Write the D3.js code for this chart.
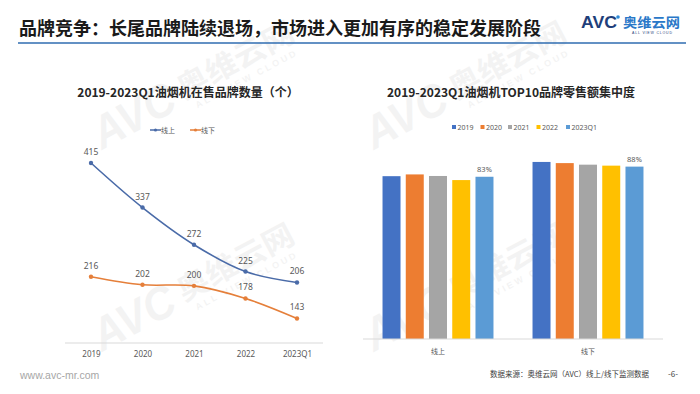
<!DOCTYPE html>
<html>
<head>
<meta charset="utf-8">
<script src="https://cdn.jsdelivr.net/npm/d3@7"></script>
<style>
  body { margin: 0; background: #fff; }
  svg { display: block; font-family: "Noto Sans CJK SC", "Noto Sans", sans-serif; }
</style>
</head>
<body>
<svg id="slide" width="700" height="394"></svg>
<script>
// ---- data ----
var years = ['2019', '2020', '2021', '2022', '2023Q1'];
var online = [415, 337, 272, 225, 206];
var offline = [216, 202, 200, 178, 143];

var channels = ['线上', '线下'];
var top10Online = [83.5, 84.4, 83.6, 81.5, 83.2];
var top10Offline = [90.8, 90.2, 89.4, 88.9, 88.4];
var top10Labels = ['83%', '88%'];

var lineColors = { '线上': '#4A6BA8', '线下': '#E57F3A' };
var barColors = ['#4472C4', '#ED7D31', '#A5A5A5', '#FFC000', '#5B9BD5'];

var svg = d3.select('#slide');

// faint AVC watermark, origin = bottom-left of "AVC"
function watermark(x, y) {
   var g = svg.append('g')
      .attr('transform', 'translate(' + x + ',' + y + ') rotate(-28)')
      .style('fill', '#000')
      .style('opacity', 0.045);
   g.append('text').attr('x', 0).attr('y', 0)
      .style('font-family', '"Liberation Sans", sans-serif')
      .style('font-weight', 'bold').style('font-style', 'italic')
      .style('font-size', '46px')
      .attr('textLength', 88).attr('lengthAdjust', 'spacingAndGlyphs')
      .text('AVC');
   g.append('text').attr('x', 96).attr('y', -6)
      .style('font-weight', 'bold').style('font-size', '30px')
      .attr('textLength', 128).attr('lengthAdjust', 'spacingAndGlyphs')
      .text('奥维云网');
   g.append('text').attr('x', 104).attr('y', 8)
      .style('font-family', '"Liberation Sans", sans-serif')
      .style('font-weight', 'bold').style('font-size', '9px')
      .attr('textLength', 112)
      .text('ALL VIEW CLOUD');
}

function header() {
   svg.append('text')
      .attr('x', 19).attr('y', 35)
      .style('font-size', '18px').style('font-weight', 'bold')
      .style('fill', '#1a1a1a')
      .text('品牌竞争：长尾品牌陆续退场，市场进入更加有序的稳定发展阶段');

   svg.append('line')
      .attr('x1', 18).attr('x2', 686).attr('y1', 43).attr('y2', 43)
      .style('stroke', '#2F6DB0').style('stroke-width', 1.5);

   // logo
   svg.append('text')
      .attr('x', 581).attr('y', 28)
      .style('font-family', '"Liberation Sans", sans-serif')
      .style('font-weight', 'bold').style('font-size', '16px')
      .style('fill', '#1F3F7A')
      .attr('textLength', 36).attr('lengthAdjust', 'spacingAndGlyphs')
      .text('AVC');
   svg.append('circle').attr('cx', 618).attr('cy', 17).attr('r', 1.8).style('fill', '#2E8BD8');
   svg.append('text')
      .attr('x', 623).attr('y', 27)
      .style('font-weight', 'bold').style('font-size', '13px')
      .style('fill', '#2A78C8')
      .attr('textLength', 57).attr('lengthAdjust', 'spacingAndGlyphs')
      .text('奥维云网');
   svg.append('text')
      .attr('x', 632).attr('y', 34)
      .style('font-family', '"Liberation Sans", sans-serif')
      .style('font-size', '3.5px').style('fill', '#1F3F7A')
      .attr('textLength', 40)
      .text('ALL VIEW CLOUD');

   // footer
   svg.append('text')
      .attr('x', 20).attr('y', 379)
      .style('font-family', '"Liberation Sans", sans-serif')
      .style('font-size', '10.5px').style('fill', '#A6A6A6')
      .text('www.avc-mr.com');
   svg.append('text')
      .attr('x', 490).attr('y', 377)
      .style('font-size', '7.5px').style('fill', '#404040')
      .text('数据来源：奥维云网（AVC）线上/线下监测数据');
   svg.append('text')
      .attr('x', 668).attr('y', 377)
      .style('font-size', '8px').style('fill', '#404040')
      .text('-6-');
}

function brandLine() {
   var x = d3.scalePoint().domain(years).range([91, 297]);
   var y = d3.scaleLinear().domain([100, 450]).range([343, 143]);

   svg.append('text')
      .attr('x', 188).attr('y', 97)
      .attr('text-anchor', 'middle')
      .style('font-size', '12px').style('font-weight', 'bold')
      .style('fill', '#262626')
      .text('2019-2023Q1油烟机在售品牌数量（个）');

   var ax = svg.append('g')
      .attr('transform', 'translate(0,343)')
      .call(d3.axisBottom(x).tickSize(0).tickPadding(8));
   ax.select('.domain').remove();
   ax.append('line').attr('x1', 65).attr('x2', 323)
      .style('stroke', '#D9D9D9').style('stroke-width', 1);
   ax.selectAll('text')
      .style('font-family', '"Noto Sans", sans-serif')
      .style('font-size', '8px').style('fill', '#595959');

   var series = [
      { key: '线上', values: online },
      { key: '线下', values: offline }
   ];

   var line = d3.line()
      .x(function(d, i) { return x(years[i]) })
      .y(function(d) { return y(d) })
      .curve(d3.curveCatmullRom.alpha(0.5));

   series.forEach(function(s) {
      var c = lineColors[s.key];
      svg.append('path')
         .datum(s.values)
         .attr('d', line)
         .style('fill', 'none').style('stroke', c).style('stroke-width', 1.6);

      svg.selectAll(null).data(s.values).enter().append('circle')
         .attr('cx', function(d, i) { return x(years[i]) })
         .attr('cy', function(d) { return y(d) })
         .attr('r', 2.2)
         .style('fill', c);

      svg.selectAll(null).data(s.values).enter().append('text')
         .attr('x', function(d, i) { return x(years[i]) })
         .attr('y', function(d) { return y(d) - 8 })
         .attr('text-anchor', 'middle')
         .style('font-family', '"Noto Sans", sans-serif')
         .style('font-size', '8.5px').style('fill', '#595959')
         .text(function(d) { return d });
   });

   // legend
   var lg = svg.append('g').attr('transform', 'translate(150,130)');
   series.forEach(function(s, i) {
      var g = lg.append('g').attr('transform', 'translate(' + (i * 40) + ',0)');
      g.append('line').attr('x1', 0).attr('x2', 11).attr('y1', 0).attr('y2', 0)
         .style('stroke', lineColors[s.key]).style('stroke-width', 1.5);
      g.append('circle').attr('cx', 5.5).attr('cy', 0).attr('r', 1.6)
         .style('fill', lineColors[s.key]);
      g.append('text').attr('x', 11).attr('y', 2.5)
         .style('font-size', '7px').style('fill', '#595959')
         .text(s.key);
   });
}

function concentrationBar() {
   var x0 = d3.scaleBand().domain(channels).range([363, 663]);
   var x1 = d3.scaleBand().domain(years).range([0, x0.bandwidth()])
      .paddingInner(0.226).paddingOuter(0.84);
   var y = d3.scaleLinear().domain([0, 100]).range([339, 144]);

   svg.append('text')
      .attr('x', 511).attr('y', 97)
      .attr('text-anchor', 'middle')
      .style('font-size', '12px').style('font-weight', 'bold')
      .style('fill', '#262626')
      .text('2019-2023Q1油烟机TOP10品牌零售额集中度');

   var rows = [top10Online, top10Offline];

   var groups = svg.selectAll('g.grp').data(channels).enter().append('g')
      .attr('class', 'grp')
      .attr('transform', function(d) { return 'translate(' + x0(d) + ',0)' });

   groups.each(function(ch, ci) {
      var g = d3.select(this);
      g.selectAll('rect').data(rows[ci]).enter().append('rect')
         .attr('x', function(d, i) { return x1(years[i]) })
         .attr('y', function(d) { return y(d) })
         .attr('width', x1.bandwidth())
         .attr('height', function(d) { return y(0) - y(d) })
         .style('fill', function(d, i) { return barColors[i] });

      var last = rows[ci][years.length - 1];
      g.append('text')
         .attr('x', x1('2023Q1') + x1.bandwidth() / 2)
         .attr('y', y(last) - 5)
         .attr('text-anchor', 'middle')
         .style('font-family', '"Noto Sans", sans-serif')
         .style('font-size', '7.5px').style('fill', '#595959')
         .text(top10Labels[ci]);
   });

   var ax = svg.append('g')
      .attr('transform', 'translate(0,339)')
      .call(d3.axisBottom(x0).tickSize(0).tickPadding(10));
   ax.select('.domain').remove();
   ax.append('line').attr('x1', 363).attr('x2', 663)
      .style('stroke', '#D9D9D9').style('stroke-width', 1);
   ax.selectAll('text')
      .style('font-family', '"Noto Sans CJK SC", sans-serif')
      .style('font-size', '7px').style('fill', '#595959');

   // legend
   var lg = svg.append('g').attr('transform', 'translate(452,127)');
   var offs = [0, 28.5, 56, 84.5, 114];
   years.forEach(function(yr, i) {
      var g = lg.append('g').attr('transform', 'translate(' + offs[i] + ',0)');
      g.append('rect').attr('x', 0).attr('y', -2).attr('width', 4).attr('height', 4)
         .style('fill', barColors[i]);
      g.append('text').attr('x', 5.5).attr('y', 2.5)
         .style('font-family', '"Noto Sans", sans-serif')
         .style('font-size', '7px').style('fill', '#595959')
         .text(yr);
   });
}

watermark(102, 150);
watermark(374, 150);
watermark(102, 352);
watermark(374, 352);
header();
brandLine();
concentrationBar();
</script>
</body>
</html>
